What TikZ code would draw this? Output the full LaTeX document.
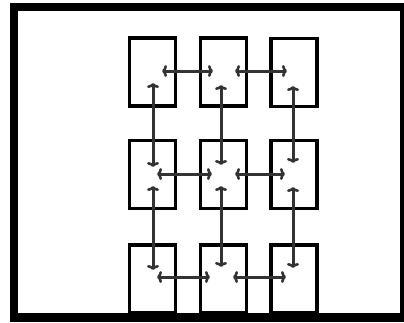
\documentclass[tikz,border=0pt]{standalone}
\usetikzlibrary{arrows.meta}
\begin{document}
\begin{tikzpicture}[x=1pt,y=-1pt,
  cell/.style={draw=black,line width=3.2pt,minimum width=46pt,minimum height=68pt,inner sep=0pt,fill=white},
  link/.style={line width=3pt,draw=black!80,{Computer Modern Rightarrow[length=5pt,width=12pt,line width=2.6pt]}-{Computer Modern Rightarrow[length=5pt,width=12pt,line width=2.6pt]}}]
\useasboundingbox (0,0) rectangle (404,322);
\fill[white] (0,0) rectangle (404,322);
\fill[black] (10,3) rectangle (404,322);
\fill[white] (18,11) rectangle (400,313);
% boxes
\node[cell] (b11) at (152.5,72) {};
\node[cell] (b12) at (223.5,72) {};
\node[cell] (b13) at (294,72.5) {};
\node[cell] (b21) at (152.5,174.5) {};
\node[cell] (b22) at (223.5,174.5) {};
\node[cell] (b23) at (294,174.5) {};
\node[cell] (b31) at (152.5,279) {};
\node[cell] (b32) at (223.5,279) {};
\node[cell] (b33) at (294,279) {};
% horizontal links
\draw[link] ([shift={(9.5,-1)}]b11.center) -- ([shift={(-10.5,-1)}]b12.center);
\draw[link] ([shift={(11.5,-1)}]b12.center) -- ([shift={(-7,-1.5)}]b13.center);
\draw[link] ([shift={(4.5,-0.5)}]b21.center) -- ([shift={(-11.5,-0.5)}]b22.center);
\draw[link] ([shift={(11.5,-0.5)}]b22.center) -- ([shift={(-9,-0.5)}]b23.center);
\draw[link] ([shift={(4.5,-2)}]b31.center) -- ([shift={(-13.5,-2)}]b32.center);
\draw[link] ([shift={(9.5,-2)}]b32.center) -- ([shift={(-8,-2)}]b33.center);
% vertical links
\draw[link] ([shift={(0.5,11)}]b11.center) -- ([shift={(0.5,-7.5)}]b21.center);
\draw[link] ([shift={(0.5,11.5)}]b21.center) -- ([shift={(0.5,-9)}]b31.center);
\draw[link] ([shift={(-2.5,13)}]b12.center) -- ([shift={(-2.5,-9.5)}]b22.center);
\draw[link] ([shift={(-2.5,11.5)}]b22.center) -- ([shift={(-2.5,-12)}]b32.center);
\draw[link] ([shift={(-1,13.5)}]b13.center) -- ([shift={(-1,-11.5)}]b23.center);
\draw[link] ([shift={(-1,12.5)}]b23.center) -- ([shift={(-1,-11)}]b33.center);
% frame on top (hides box bottoms)
\fill[black] (10,313) rectangle (404,322);
\end{tikzpicture}
\end{document}
